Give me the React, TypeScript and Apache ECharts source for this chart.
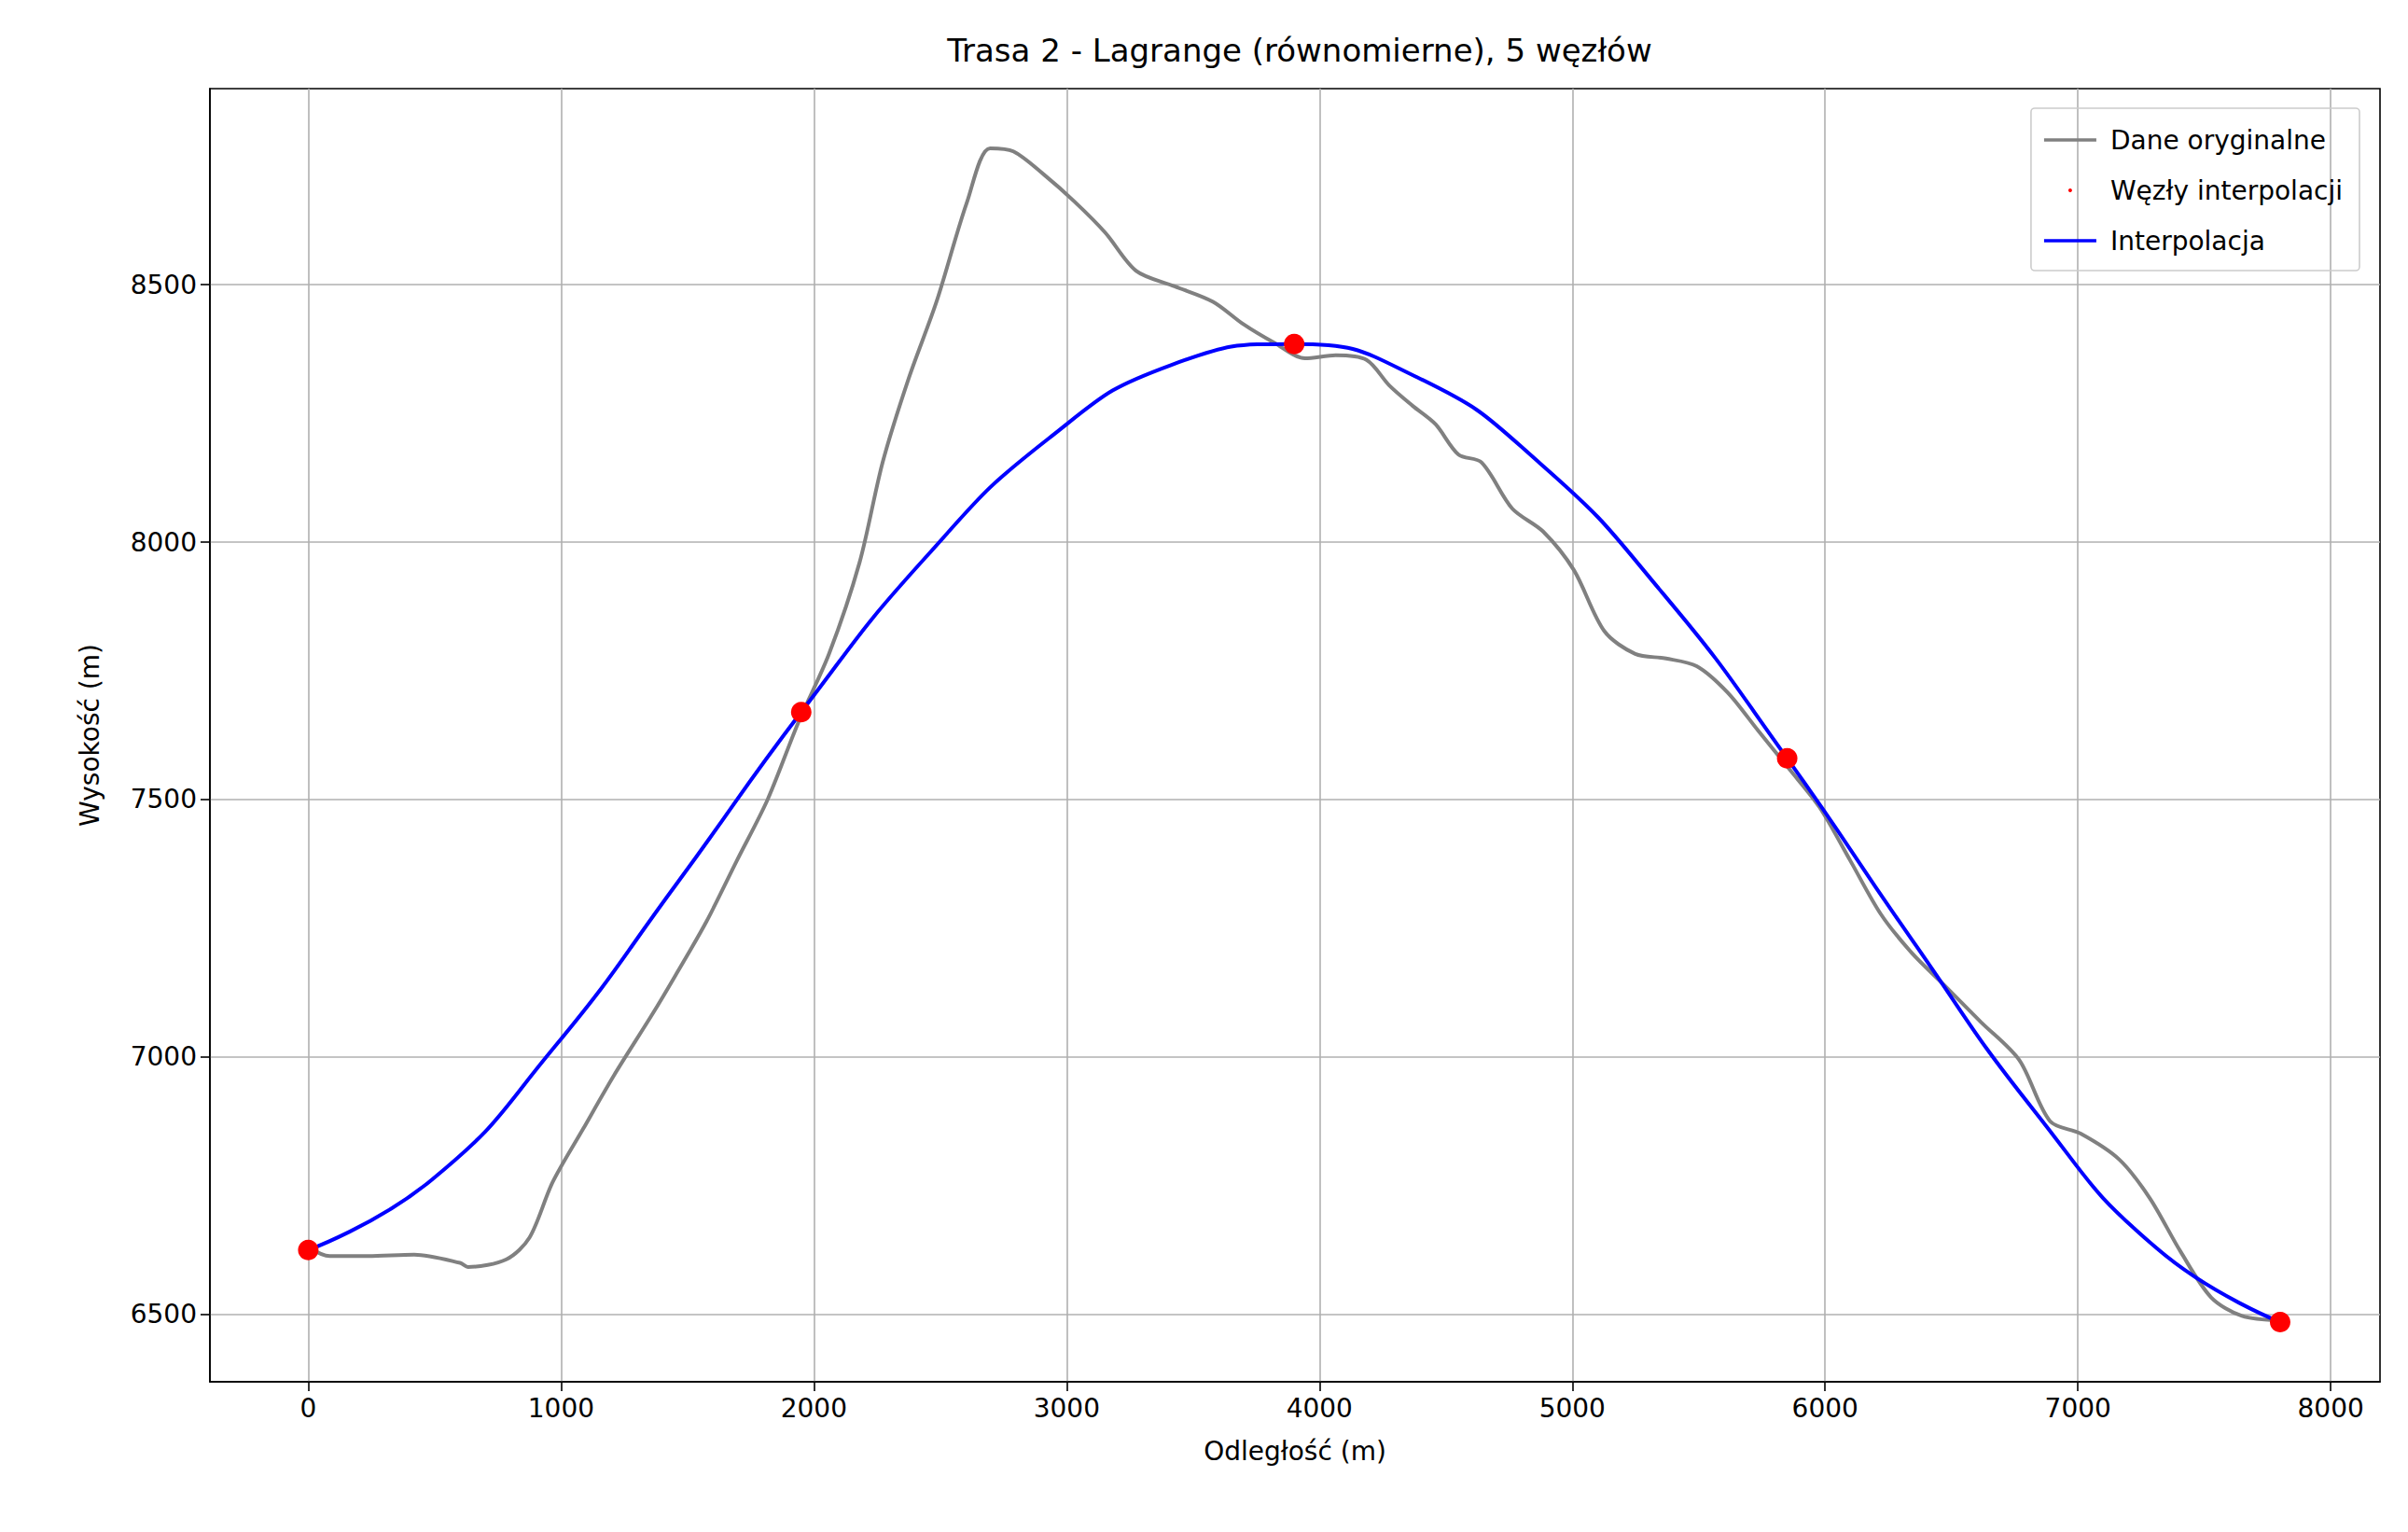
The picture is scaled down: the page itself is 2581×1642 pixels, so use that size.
import React, { useEffect, useRef } from "react";
import * as echarts from "echarts";

const origX = [0, 85, 237, 419, 600, 632, 784, 875, 966, 1087, 1209, 1361, 1452, 1574, 1695, 1817, 1938, 2060, 2181, 2272, 2375, 2485, 2606, 2697, 2789, 2910, 3032, 3153, 3275, 3427, 3579, 3700, 3822, 3943, 4064, 4186, 4277, 4368, 4459, 4550, 4641, 4763, 4884, 5006, 5127, 5249, 5371, 5492, 5614, 5735, 5857, 5978, 6100, 6221, 6343, 6464, 6616, 6768, 6890, 7011, 7163, 7284, 7406, 7527, 7649, 7800];
const origY = [6631, 6613, 6613, 6616, 6600, 6592, 6607, 6649, 6756, 6860, 6964, 7083, 7158, 7262, 7381, 7500, 7649, 7783, 7961, 8155, 8318, 8467, 8661, 8765, 8759, 8714, 8661, 8601, 8527, 8497, 8467, 8423, 8387, 8357, 8363, 8354, 8304, 8265, 8229, 8170, 8155, 8065, 8021, 7946, 7827, 7783, 7774, 7759, 7708, 7634, 7560, 7485, 7381, 7277, 7202, 7143, 7068, 6994, 6875, 6851, 6801, 6726, 6622, 6533, 6497, 6488];

const nodeX = [0, 1950, 3900, 5850, 7800];
const nodeY = [6625, 7670, 8385, 7580, 6485];

const interpX = [0, 487.5, 975, 1462.5, 1950, 2437.5, 2925, 3412.5, 3900, 4387.5, 4875, 5362.5, 5850, 6337.5, 6825, 7312.5, 7800];
const interpY = [6625, 6761, 7020, 7340, 7670, 7968, 8200, 8344, 8385, 8320, 8152, 7898, 7580, 7232, 6897, 6628, 6485];

const xTicks = [0, 1000, 2000, 3000, 4000, 5000, 6000, 7000, 8000];
const yTicks = [6500, 7000, 7500, 8000, 8500];

const zip = (a: number[], b: number[]) => a.map((v, i) => [v, b[i]]);

export default function App() {
  const ref = useRef<HTMLDivElement>(null);

  useEffect(() => {
    document.body.style.margin = "0";
    if (!ref.current) return;
    const chart = echarts.init(ref.current, null, { renderer: "svg" });
    const font = "DejaVu Sans";
    const axisCommon = {
      axisLine: { show: true, onZero: false, lineStyle: { color: "#000", width: 1.6 } },
      axisTick: { show: true, length: 10, lineStyle: { color: "#000", width: 1.6 } },
      axisLabel: { color: "#000", fontSize: 28, fontFamily: font, margin: 14, formatter: (v: number) => String(v) },
      splitLine: { show: true, lineStyle: { color: "#b0b0b0", width: 1.6 } },
      nameLocation: "middle" as const,
      nameTextStyle: { color: "#000", fontSize: 28, fontFamily: font },
    };
    const lineIcon = "path://M0,0H60V4H0Z";
    chart.setOption({
      animation: false,
      backgroundColor: "#fff",
      title: {
        text: "Trasa 2 - Lagrange (równomierne), 5 węzłów",
        left: 1388,
        textAlign: "center",
        top: 32,
        textStyle: { fontSize: 34, fontWeight: "normal", color: "#000", fontFamily: font },
      },
      grid: { left: 225, right: 30, top: 95, bottom: 161, show: true, borderColor: "#000", borderWidth: 1.6 },
      legend: {
        orient: "vertical",
        right: 52,
        top: 116,
        itemWidth: 56,
        itemHeight: 4,
        itemGap: 26,
        padding: [20, 18, 18, 14],
        borderColor: "#ccc",
        borderWidth: 1.6,
        borderRadius: 4,
        textStyle: { fontSize: 28, fontFamily: font, color: "#000", padding: [0, 0, 0, 10] },
        data: [
          { name: "Dane oryginalne", icon: lineIcon },
          { name: "Węzły interpolacji", icon: "circle", itemStyle: { opacity: 1 } },
          { name: "Interpolacja", icon: lineIcon },
        ],
      },
      xAxis: {
        ...axisCommon,
        type: "value",
        min: -389,
        max: 8195,
        name: "Odległość (m)",
        nameGap: 60,
        axisTick: { ...axisCommon.axisTick, customValues: xTicks },
        axisLabel: { ...axisCommon.axisLabel, customValues: xTicks },
      },
      yAxis: {
        ...axisCommon,
        type: "value",
        min: 6369,
        max: 8881,
        name: "Wysokość (m)",
        nameGap: 115,
        axisTick: { ...axisCommon.axisTick, customValues: yTicks },
        axisLabel: { ...axisCommon.axisLabel, customValues: yTicks },
      },
      series: [
        {
          name: "Dane oryginalne",
          type: "line",
          data: zip(origX, origY),
          symbol: "none",
          smooth: 0.3,
          lineStyle: { color: "#808080", width: 4 },
          itemStyle: { color: "#808080" },
        },
        {
          name: "Węzły interpolacji",
          type: "scatter",
          data: zip(nodeX, nodeY),
          symbolSize: 22,
          itemStyle: { color: "#ff0000", opacity: 1 },
          z: 5,
        },
        {
          name: "Interpolacja",
          type: "line",
          data: zip(interpX, interpY),
          symbol: "none",
          smooth: true,
          lineStyle: { color: "#0000ff", width: 4 },
          itemStyle: { color: "#0000ff" },
          z: 4,
        },
      ],
    });
    return () => chart.dispose();
  }, []);

  return <div ref={ref} style={{ width: 2581, height: 1642 }} />;
}
